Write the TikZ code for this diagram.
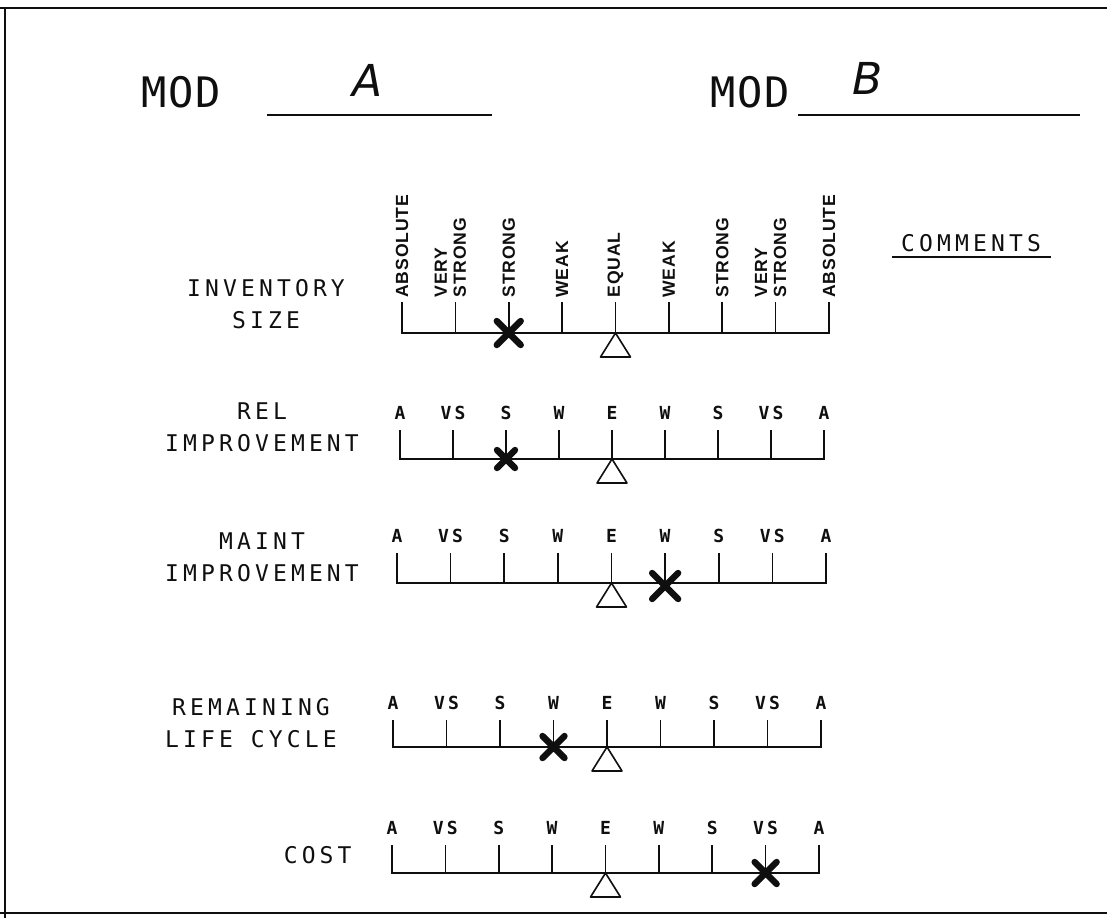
\documentclass[tikz,border=0pt]{standalone}
\usepackage{fontspec}
\usetikzlibrary{calc}
\newfontfamily\plotfont[LetterSpace=18]{DejaVu Sans Mono}
\newfontfamily\headfont[LetterSpace=4]{DejaVu Sans Mono}
\newfontfamily\tagfont[LetterSpace=5]{Liberation Sans}
\newfontfamily\handfont{DejaVu Sans}
\definecolor{formink}{RGB}{15,15,15}
\tikzset{
  form rule/.style={draw=formink, line width=1.4pt},
  scale base/.style={draw=formink, line width=1.4pt},
  scale tick/.style={draw=formink, line width=0.8pt},
  fulcrum/.style={draw=formink, line width=0.8pt, line join=round},
  row label/.style={font=\plotfont\fontsize{11.5}{16}\selectfont, align=center, inner sep=0pt, text=formink},
  head text/.style={font=\headfont\fontsize{21}{22}\selectfont, inner sep=0pt, text=formink},
  hand text/.style={font=\handfont\itshape\fontsize{22}{24}\selectfont, inner sep=0pt, text=formink},
  tick letter/.style={font=\plotfont\bfseries\fontsize{9}{9}\selectfont, inner sep=0pt, anchor=base, text=formink},
  tick word/.style={font=\tagfont\bfseries\fontsize{8.8}{9.5}\selectfont, rotate=90, anchor=west,
    align=left, inner sep=0pt, text=formink},
  pics/choice cross/.style={code={
    \draw[draw=formink, line width=3.2pt, line cap=round] (-#1,-#1) -- (#1,#1) (-#1,#1) -- (#1,-#1);
  }},
}

\begin{document}
\begin{tikzpicture}[x=0.5pt,y=-0.5pt]
  \useasboundingbox (0,0) rectangle (1107,918);

  % frame
  \draw[form rule] (0,8) -- (1107,8);
  \draw[form rule] (5,8) -- (5,918);
  \draw[form rule] (0,913) -- (1107,913);

  % header
  \node[head text] (moda) at (181,92) {MOD};
  \draw[form rule] (267,115) -- (492,115);
  \node[hand text] (vala) at (368,80) {A};
  \node[head text] (modb) at (750,92) {MOD};
  \draw[form rule] (798,115) -- (1080,115);
  \node[hand text] (valb) at (868,78) {B};

  \node[row label] (comments) at (971,243) {COMMENTS};
  \draw[form rule] (892,257) -- (1051,257);

  % row labels
  \node[row label] (inv) at (266,304) {INVENTORY\\SIZE};
  \node[row label] (rel) at (262,427) {REL\\IMPROVEMENT};
  \node[row label] (maint) at (262,557) {MAINT\\IMPROVEMENT};
  \node[row label] (life) at (251,723) {REMAINING\\LIFE CYCLE};
  \node[row label, anchor=east] (cost) at (352,855) {COST};

  % scales
  \foreach \r/\xa/\xb/\yb/\yt in {1/402/829/333/302, 2/400/824/459/430,
      3/397/826/583/553, 4/393/821/747/720, 5/392/819/873/845} {
    \foreach \i in {0,...,8} {
      \coordinate (s\r-\i) at ({\xa+\i*(\xb-\xa)/8},\yt);
      \coordinate (b\r-\i) at ({\xa+\i*(\xb-\xa)/8},\yb);
    }
    \draw[scale base] (s\r-0) -- (b\r-0) -- (b\r-8) -- (s\r-8);
    \foreach \i in {1,...,7}
      \draw[scale tick] (s\r-\i) -- (b\r-\i);
    \draw[fulcrum] (b\r-4) -- ++(-15,24) -- ++(30,0) -- cycle;
    \ifnum\r>1
      \foreach \i/\t in {0/A,1/VS,2/S,3/W,4/E,5/W,6/S,7/VS,8/A}
        \node[tick letter] (l\r-\i) at ($(s\r-\i)+(0,-11)$) {\t};
    \fi
  }

  % strength words, first row
  \node[tick word] (w0) at ($(s1-0)+(0,-4)$) {ABSOLUTE};
  \node[tick word] (w1) at ($(s1-1)+(-5,-4)$) {VERY\\STRONG};
  \node[tick word] (w2) at ($(s1-2)+(0,-4)$) {STRONG};
  \node[tick word] (w3) at ($(s1-3)+(0,-4)$) {WEAK};
  \node[tick word] (w4) at ($(s1-4)+(0,-4)$) {EQUAL};
  \node[tick word] (w5) at ($(s1-5)+(0,-4)$) {WEAK};
  \node[tick word] (w6) at ($(s1-6)+(0,-4)$) {STRONG};
  \node[tick word] (w7) at ($(s1-7)+(-5,-4)$) {VERY\\STRONG};
  \node[tick word] (w8) at ($(s1-8)+(0,-4)$) {ABSOLUTE};

  % choices
  \pic at (b1-2) {choice cross=12};
  \pic at (b2-2) {choice cross=9};
  \pic at ($(b3-5)+(0,3)$) {choice cross=13};
  \pic at (b4-3) {choice cross=11};
  \pic at (b5-7) {choice cross=11};
\end{tikzpicture}
\end{document}
